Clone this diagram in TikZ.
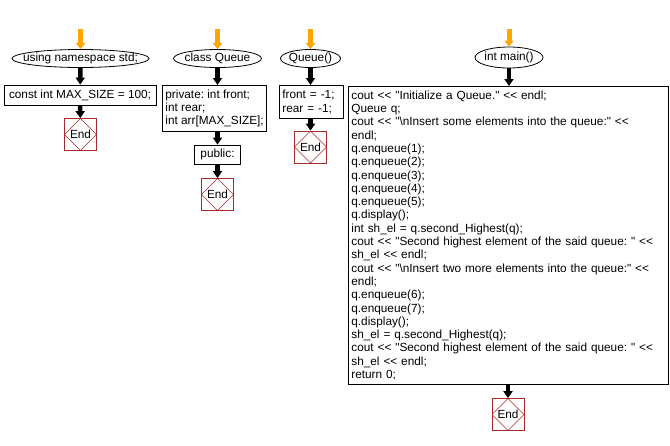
\documentclass[tikz,border=0pt]{standalone}
\usepackage{fontspec}
\setmainfont{Liberation Sans}[Ligatures=TeXOff]
\usetikzlibrary{arrows.meta,shapes.geometric}
\definecolor{startorange}{HTML}{FFA500}
\definecolor{endred}{HTML}{A52A2A}
\newcommand{\tightlabel}[1]{\makebox[0pt]{#1}}

\tikzset{
  term/.style={ellipse,draw,line width=0.8pt,inner sep=0pt},
  stmt/.style={rectangle,draw,line width=0.8pt,inner xsep=3pt,inner ysep=2pt},
  stop/.style={rectangle,draw=endred,line width=0.7pt,minimum size=32pt,inner sep=0pt,
    path picture={\draw[endred,line width=0.6pt] (path picture bounding box.north)
      -- (path picture bounding box.east) -- (path picture bounding box.south)
      -- (path picture bounding box.west) -- cycle;}},
  flow/.style={line width=4.5pt,-{Triangle[width=9pt,length=7pt]}},
  entry/.style={startorange,line width=5pt,-{Triangle[width=9pt,length=6pt]}}
}

\begin{document}
\frenchspacing
\begin{tikzpicture}[x=1pt,y=-1pt,font=\fontsize{11.8}{13.3}\selectfont]
  \useasboundingbox (0,0) rectangle (670,445);

  \coordinate (s1) at (80.5,29);
  \coordinate (s2) at (217.5,29);
  \coordinate (s3) at (310.5,29);
  \coordinate (s4) at (509,29);

  \node[term,minimum width=137pt,minimum height=18pt] (t1) at (80.5,58.5) {\tightlabel{using namespace std;}};
  \node[stmt,minimum width=152pt,minimum height=20pt] (b1) at (80,95) {const int MAX\_SIZE = 100;};
  \node[stop] (x1) at (80.5,134.5) {End};

  \node[term,minimum width=88pt,minimum height=18pt] (t2) at (217.5,58.5) {\tightlabel{class Queue}};
  \node[stmt,anchor=north west,align=left,minimum width=101pt,minimum height=46pt] (b2) at (162,85)
    {private: int front;\\ int rear;\\ int arr[MAX\_SIZE];};
  \node[stmt,minimum width=46pt,minimum height=19pt] (p2) at (217.5,154.5) {public:};
  \node[stop] (x2) at (217.5,194.5) {End};

  \node[term,minimum width=60pt,minimum height=18pt] (t3) at (310.5,58.5) {\tightlabel{Queue()}};
  \node[stmt,anchor=north west,text width=58pt,align=left,minimum height=33pt] (b3) at (279,85)
    {front = -1;\\ rear = -1;};
  \node[stop] (x3) at (310.5,147) {End};

  \node[term,minimum width=68pt,minimum height=21pt] (t4) at (509,57.5) {\tightlabel{int main()}};
  \node[stmt,anchor=north west,text width=314pt,align=left,minimum height=298pt] (b4) at (348,86)
    {cout << "Initialize a Queue." << endl;\\
     Queue q;\\
     cout << "\textbackslash nInsert some elements into the queue:" <<\\
     endl;\\
     q.enqueue(1);\\
     q.enqueue(2);\\
     q.enqueue(3);\\
     q.enqueue(4);\\
     q.enqueue(5);\\
     q.display();\\
     int sh\_el = q.second\_Highest(q);\\
     cout << "Second highest element of the said queue: " <<\\
     sh\_el << endl;\\
     cout << "\textbackslash nInsert two more elements into the queue:" <<\\
     endl;\\
     q.enqueue(6);\\
     q.enqueue(7);\\
     q.display();\\
     sh\_el = q.second\_Highest(q);\\
     cout << "Second highest element of the said queue: " <<\\
     sh\_el << endl;\\
     return 0;};
  \node[stop] (x4) at (508,414.5) {End};

  \foreach \i in {1,...,4}
    \draw[entry] (s\i) -- (t\i.north);

  \draw[flow] (t1) -- (b1);
  \draw[flow] (b1) -- (x1);
  \draw[flow] (t2) -- (t2 |- b2.north);
  \draw[flow] (t2 |- b2.south) -- (p2);
  \draw[flow] (p2) -- (x2);
  \draw[flow] (t3) -- (t3 |- b3.north);
  \draw[flow] (t3 |- b3.south) -- (x3);
  \draw[flow] (t4) -- (t4 |- b4.north);
  \draw[flow] (x4 |- b4.south) -- (x4);
\end{tikzpicture}
\end{document}
